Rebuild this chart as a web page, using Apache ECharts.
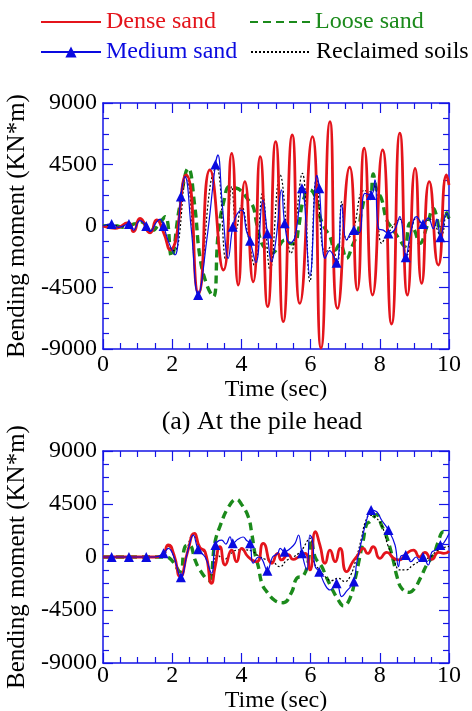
<!DOCTYPE html>
<html><head><meta charset="utf-8">
<script src="https://cdn.jsdelivr.net/npm/echarts@6/dist/echarts.min.js"></script>
<style>html,body{margin:0;padding:0;background:#fff}#c{width:472px;height:711px}</style>
</head><body><div id="c"></div>
<script>
// ---------- data ----------
const seriesNames = ['Dense sand', 'Loose sand', 'Medium sand', 'Reclaimed soils'];
const yTicks = [-9000, -4500, 0, 4500, 9000];
const xTicks = [0, 2, 4, 6, 8, 10];

// (a) At the pile head
const tDenseTop = [0,0.35,0.73,0.88,1.07,1.36,1.55,1.74,1.94,2.40,2.76,3.09,3.48,3.72,3.91,4.10,4.34,4.54,4.76,4.99,5.21,5.47,5.69,6.05,6.30,6.56,6.78,7.13,7.35,7.55,7.79,8.08,8.34,8.58,8.80,9.02,9.21,9.43,9.69,9.93,10];
const vDenseTop = [0,-170,240,-410,560,-500,440,-420,-1760,3730,-4930,4100,-3220,5320,-4320,3240,-4080,5070,-5900,6170,-7000,6660,-5660,6540,-8930,7630,-6030,4300,-4690,5690,-5050,5560,-7170,6790,-5050,4220,-4200,3240,-2860,3730,3000];

const tLooseTop = [0,0.3,0.6,0.9,1.1,1.3,1.45,1.6,1.8,1.98,2.2,2.47,2.65,2.80,3.0,3.19,3.33,3.5,3.65,3.8,3.96,4.20,4.34,4.44,4.59,4.75,4.88,5.05,5.26,5.45,5.55,5.65,5.79,5.98,6.17,6.27,6.42,6.56,6.71,6.85,7.04,7.2,7.38,7.48,7.62,7.72,7.81,7.91,8.05,8.20,8.39,8.58,8.72,8.87,9.0,9.16,9.36,9.55,9.65,9.74,9.88,10];
const vLooseTop = [0,50,-100,150,300,-100,-300,100,680,-2250,1200,4220,1500,-2250,-4300,-5170,-540,1900,2900,2800,2640,1900,1410,200,-1270,-1800,-2000,-1600,-1020,-1300,-1270,-170,1900,2640,1900,680,-200,-780,-1760,-1300,-2370,-1500,-290,1170,2150,2000,3800,2640,2000,440,-290,-1020,-1500,200,-300,-1270,-50,1290,600,-540,1100,560];

const tMediumTop = [0,0.25,0.45,0.75,0.88,1.07,1.25,1.36,1.55,1.65,1.75,1.9,2.08,2.25,2.37,2.55,2.75,3.0,3.25,3.32,3.45,3.62,3.75,3.86,4.01,4.15,4.25,4.42,4.62,4.75,4.87,5.0,5.16,5.25,5.40,5.55,5.75,5.98,6.18,6.25,6.42,6.55,6.75,6.90,7.04,7.25,7.40,7.57,7.75,7.86,7.96,8.1,8.25,8.42,8.58,8.75,8.9,9.06,9.25,9.40,9.55,9.65,9.75,9.93,10];
const vMediumTop = [0,150,-100,150,-300,400,0,-400,300,500,0,-1200,-2120,2150,3610,-200,-5050,-1000,4500,5200,1500,-2370,-50,800,1170,-400,-1080,-2680,1900,-540,-2600,-1000,2640,200,-1270,-800,2760,-3650,3700,2760,-2370,-1800,-2680,1540,-1020,-290,-500,2390,2270,3370,-170,-300,-540,-300,680,-2290,-400,680,150,600,-200,500,-830,930,600];

const tReclaimedTop = [0,0.3,0.5,0.75,0.88,1.07,1.36,1.55,1.74,1.94,2.08,2.40,2.76,3.10,3.28,3.55,3.72,3.86,4.0,4.20,4.39,4.61,4.83,5.12,5.43,5.76,5.98,6.17,6.42,6.6,6.77,6.9,7.04,7.22,7.55,7.78,7.86,8.05,8.22,8.58,8.77,9.06,9.22,9.45,9.77,9.93,10];
const vReclaimedTop = [0,100,-100,150,-350,500,-450,400,-300,-1700,-1800,3700,-5000,3000,4340,-2500,2880,-200,1500,-800,-2980,2390,-3220,3730,-2000,3860,-4080,3490,-2000,-1500,-2800,1780,-1000,-400,2600,2500,3000,-1270,-600,500,-2200,600,200,500,-700,900,500];

// (b) lower section
const tDenseBot = [0,1.5,1.7,1.89,2.05,2.23,2.45,2.64,2.80,2.95,3.14,3.24,3.38,3.53,3.72,3.86,4.01,4.2,4.44,4.63,4.88,5.05,5.16,5.35,5.5,5.65,5.84,5.98,6.14,6.27,6.42,6.56,6.71,6.85,7.04,7.22,7.35,7.52,7.65,7.81,8.0,8.2,8.4,8.55,8.78,8.97,9.15,9.3,9.5,9.7,9.85,10];
const vDenseBot = [0,0,100,1020,200,-1670,500,2010,800,450,-2230,-820,870,-680,590,-400,740,0,-400,1160,-530,300,-250,200,-200,0,310,-1100,2150,1000,-530,590,-400,740,-1250,-400,100,740,300,870,-110,400,-100,-250,300,590,0,400,-200,400,300,500];

const tLooseBot = [0,1.8,1.98,2.23,2.37,2.50,2.66,2.80,3.05,3.24,3.38,3.62,3.86,4.01,4.20,4.30,4.39,4.49,4.59,4.73,4.97,5.21,5.45,5.60,5.79,5.93,6.02,6.13,6.32,6.45,6.61,6.80,6.95,7.14,7.30,7.40,7.52,7.62,7.72,7.91,8.05,8.2,8.39,8.50,8.63,8.85,9.0,9.18,9.36,9.55,9.69,9.84,10];
const vLooseBot = [0,0,-250,-1250,870,1000,-250,-1100,-2000,1300,2600,4200,4900,4450,3400,2000,310,-820,-2230,-2940,-3700,-3880,-3000,-1800,-1600,-400,1500,0,-800,-1670,-2650,-3650,-4150,-3500,-1700,-300,1400,2800,3000,3600,2700,1700,-300,-1700,-2650,-3000,-2700,-1750,-650,150,1300,2150,2100];

const tMediumBot = [0,0.25,0.75,1.25,1.5,1.75,1.89,2.05,2.25,2.45,2.61,2.75,2.95,3.14,3.25,3.43,3.55,3.67,3.75,3.9,4.05,4.15,4.25,4.34,4.5,4.6,4.75,4.9,5.05,5.12,5.25,5.40,5.55,5.65,5.75,5.89,5.98,6.05,6.13,6.25,6.42,6.56,6.75,6.90,7.04,7.25,7.33,7.48,7.62,7.75,7.91,8.05,8.25,8.44,8.54,8.62,8.75,8.9,9.05,9.15,9.25,9.40,9.5,9.62,9.75,9.85,10];
const vMediumBot = [0,0,0,0,0,310,740,0,-1720,500,1850,650,0,-1380,1020,1440,1100,1720,1160,1500,1700,1400,1160,-530,0,-200,-1160,0,300,740,450,700,1160,1870,310,-1100,1870,1500,-800,-1250,-2370,-2800,-2230,-3370,-2900,-2090,-530,1440,3140,3990,3840,3140,2290,1020,-820,100,170,-400,0,-300,0,-680,400,600,1020,1200,2000];

const tReclaimedBot = [0,1.7,1.89,2.05,2.23,2.61,2.80,2.95,3.14,3.3,3.5,3.7,3.9,4.1,4.3,4.5,4.7,4.9,5.12,5.3,5.5,5.72,5.98,6.1,6.23,6.42,6.6,6.8,6.99,7.15,7.33,7.48,7.57,7.72,7.86,8.05,8.23,8.4,8.58,8.77,8.95,9.2,9.45,9.65,9.85,10];
const vReclaimedBot = [0,0,900,0,-1600,1900,800,300,-1600,200,-200,300,600,600,500,100,-200,-400,-820,-300,0,500,1600,-500,-1000,-1670,-2000,-1800,-2090,-1600,0,1720,2860,3560,3400,2710,1020,-200,-1100,-1100,-700,-300,0,500,800,900];

// ---------- styling ----------
const FONT = "'Liberation Serif', 'Times New Roman', serif";
const AXIS_BLUE = '#1414e6';
const C_RED = '#e4141b', C_GREEN = '#1b8a1b', C_BLUE = '#0a0ae0', C_BLACK = '#000';

function pairs(t, v) { return t.map((x, i) => [x, v[i]]); }
function isMarker(t) { const q = t * 4; const r = Math.round(q); return Math.abs(q - r) < 1e-6 && (r % 2 === 1); }

const grids = [
  { left: 103, top: 103, width: 346, height: 246, containLabel: false, outerBoundsMode: 'none' },
  { left: 103, top: 451, width: 346, height: 212, containLabel: false, outerBoundsMode: 'none' }
];

const tickStyle = { show: true, inside: true, length: 10, lineStyle: { color: AXIS_BLUE, width: 1.2 } };
const minorStyle = { show: true, splitNumber: 4, length: 6, lineStyle: { color: AXIS_BLUE, width: 1.2 } };
const lineStyleAxis = { show: true, onZero: false, lineStyle: { color: AXIS_BLUE, width: 1.5 } };
const plain = v => String(v);

const xAxes = [], yAxes = [];
[0, 1].forEach(g => {
  xAxes.push({
    type: 'value', gridIndex: g, position: 'bottom', min: xTicks[0], max: xTicks[xTicks.length - 1], interval: xTicks[1] - xTicks[0],
    axisLine: lineStyleAxis, axisTick: tickStyle, minorTick: minorStyle, splitLine: { show: false },
    axisLabel: { fontFamily: FONT, fontSize: 24, color: '#000', margin: g === 0 ? 4 : 1, formatter: plain },
    name: 'Time (sec)', nameLocation: 'middle', nameGap: g === 0 ? 29 : 25,
    nameTextStyle: { fontFamily: FONT, fontSize: 24, color: '#000' }
  });
  xAxes.push({
    type: 'value', gridIndex: g, position: 'top', min: xTicks[0], max: xTicks[xTicks.length - 1], interval: xTicks[1] - xTicks[0],
    axisLine: lineStyleAxis, axisTick: tickStyle, minorTick: minorStyle, splitLine: { show: false }, axisLabel: { show: false }
  });
  yAxes.push({
    type: 'value', gridIndex: g, position: 'left', min: yTicks[0], max: yTicks[yTicks.length - 1], interval: yTicks[1] - yTicks[0],
    axisLine: lineStyleAxis, axisTick: tickStyle, minorTick: minorStyle, splitLine: { show: false },
    axisLabel: { fontFamily: FONT, fontSize: 24, color: '#000', margin: 6, formatter: plain },
    name: 'Bending moment (KN*m)', nameLocation: 'middle', nameGap: 66,
    nameTextStyle: { fontFamily: FONT, fontSize: 25, color: '#000' }
  });
  yAxes.push({
    type: 'value', gridIndex: g, position: 'right', min: yTicks[0], max: yTicks[yTicks.length - 1], interval: yTicks[1] - yTicks[0],
    axisLine: lineStyleAxis, axisTick: tickStyle, minorTick: minorStyle, splitLine: { show: false }, axisLabel: { show: false }
  });
});

function mk(name, g, data, kind) {
  const s = { name, type: 'line', xAxisIndex: g * 2, yAxisIndex: g * 2, data, smooth: 0.45, animation: false, silent: true };
  if (kind === 'dense') Object.assign(s, { smooth: 0.6, symbol: 'none', lineStyle: { color: C_RED, width: 2.8 }, itemStyle: { color: C_RED }, z: 3 });
  if (kind === 'loose') Object.assign(s, { symbol: 'none', lineStyle: { color: C_GREEN, width: 3.4, type: [8, 5] }, itemStyle: { color: C_GREEN }, z: 2 });
  if (kind === 'reclaimed') Object.assign(s, { symbol: 'none', lineStyle: { color: C_BLACK, width: 1.2, type: [2, 2] }, itemStyle: { color: C_BLACK }, z: 2 });
  if (kind === 'medium') Object.assign(s, {
    symbol: 'triangle', showSymbol: true,
    symbolSize: (val) => isMarker(val[0]) ? 10 : 0,
    lineStyle: { color: C_BLUE, width: 1.2 }, itemStyle: { color: C_BLUE }, z: 4
  });
  return s;
}

const series = [
  mk('Loose sand', 0, pairs(tLooseTop, vLooseTop), 'loose'),
  mk('Reclaimed soils', 0, pairs(tReclaimedTop, vReclaimedTop), 'reclaimed'),
  mk('Dense sand', 0, pairs(tDenseTop, vDenseTop), 'dense'),
  mk('Medium sand', 0, pairs(tMediumTop, vMediumTop), 'medium'),
  mk('Loose sand', 1, pairs(tLooseBot, vLooseBot), 'loose'),
  mk('Reclaimed soils', 1, pairs(tReclaimedBot, vReclaimedBot), 'reclaimed'),
  mk('Dense sand', 1, pairs(tDenseBot, vDenseBot), 'dense'),
  mk('Medium sand', 1, pairs(tMediumBot, vMediumBot), 'medium')
];

function legendAt(name, left, top, color, hideSymbol) {
  const l = { data: [name], left, top, padding: 0, itemGap: 0, itemWidth: 60, itemHeight: 14, selectedMode: false,
    textStyle: { fontFamily: FONT, fontSize: 24, color } };
  if (hideSymbol) l.itemStyle = { opacity: 0 };
  return l;
}

const chart = echarts.init(document.getElementById('c'), null, { renderer: 'canvas' });
chart.setOption({
  backgroundColor: '#fff',
  animation: false,
  grid: grids,
  xAxis: xAxes,
  yAxis: yAxes,
  legend: [
    legendAt(seriesNames[0], 40, 10, C_RED, true),
    legendAt(seriesNames[1], 249, 10, C_GREEN, true),
    legendAt(seriesNames[2], 40, 40, C_BLUE, false),
    legendAt(seriesNames[3], 250, 40, C_BLACK, true)
  ],
  graphic: [{ type: 'text', x: 262, y: 422, style: { text: '(a) At the pile head', font: "26px 'Liberation Serif', serif", fill: '#000', align: 'center', verticalAlign: 'middle' } }],
  series
});
</script></body></html>
